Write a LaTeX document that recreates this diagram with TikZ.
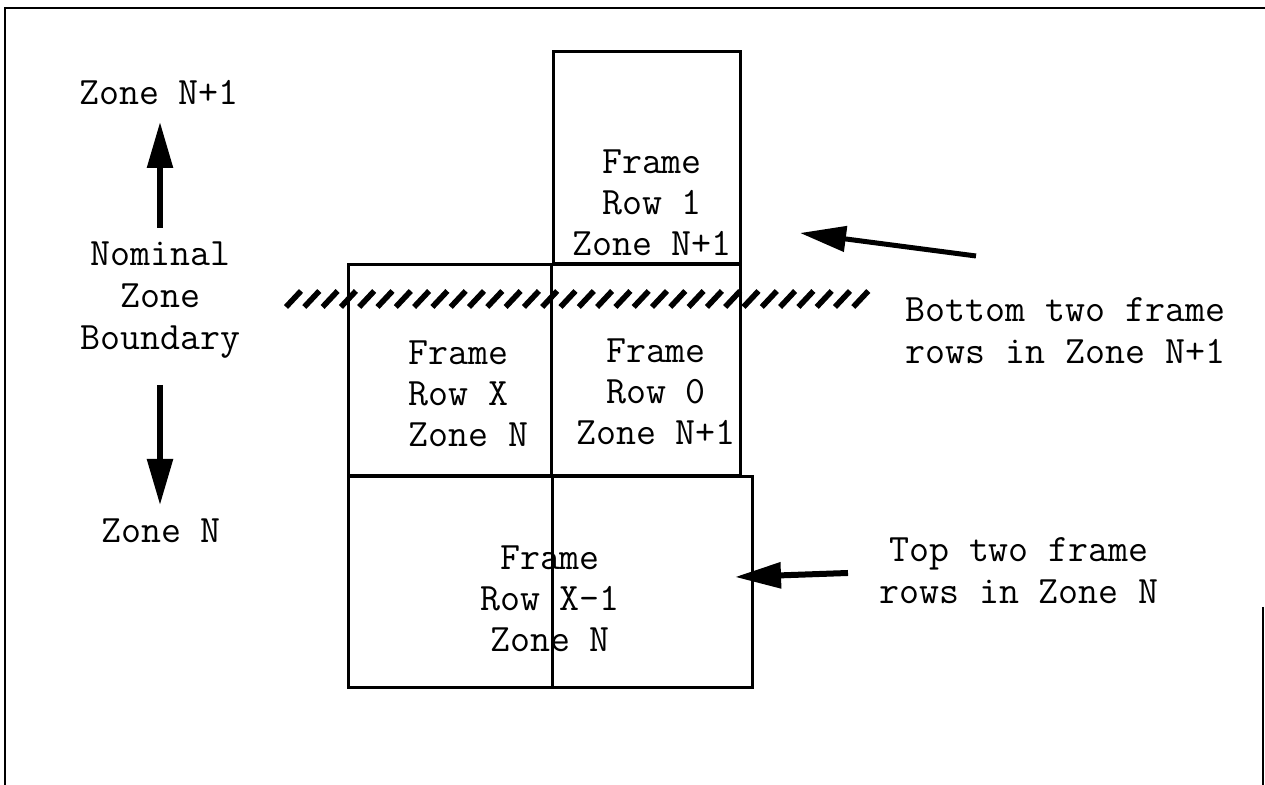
\documentclass[tikz,border=0pt]{standalone}
\usetikzlibrary{arrows.meta}
\begin{document}
\begin{tikzpicture}[x=0.5pt,y=0.5pt,
  box/.style={draw,line width=1.5pt,rectangle,inner sep=0pt},
  txt/.style={inner sep=0pt,align=center,font=\ttfamily\fontsize{19.4}{20.5}\selectfont},
  lbl/.style={inner sep=0pt,align=center,font=\ttfamily\fontsize{19.4}{21}\selectfont},
  bigarrow/.style={line width=2.8pt,-{Triangle[length=23pt,width=12.5pt]}}]
\useasboundingbox (0,0) rectangle (1265,785);
\draw[line width=1.2pt] (5,0) -- (5,777) -- (1265,777);
\draw[line width=1.2pt] (1263,178) -- (1263,0);
% frames
\node[box,minimum width=93.5pt,minimum height=106pt] (row1) at (646.5,627) {};
\node[box,minimum width=101.5pt,minimum height=105.5pt] (rowX) at (449.5,414.5) {};
\node[box,minimum width=94.5pt,minimum height=105.5pt] (row0) at (645.5,414.5) {};
\node[box,minimum width=202pt,minimum height=105.5pt] (rowXm1) at (550,202.5) {};
\draw[line width=1.5pt] (rowX.south east) -- (rowX.south east |- rowXm1.south);
\node[txt] (t1) at (652,582.5) {Frame\\Row 1\\Zone N+1};
\node[txt,align=left,anchor=west] (tX) at (408,391) {Frame\\Row X\\Zone N};
\node[txt] (t0) at (656,393.5) {Frame\\Row 0\\Zone N+1};
\node[txt] (tXm1) at (550,186) {Frame\\Row X-1\\Zone N};
% boundary hatching
\foreach \i in {0,...,31}
  \draw[line width=2.8pt] ({286+18.3*\i},478) -- ({301+18.3*\i},494);
% left side
\node[txt,anchor=base] (zoneup) at (159,680) {Zone N+1};
\node[lbl] (boundary) at (160.5,485) {Nominal\\Zone\\Boundary};
\node[txt,anchor=base] (zonedown) at (161,242) {Zone N};
\coordinate (upTail) at (160,557);
\coordinate (upTip) at (160,663);
\coordinate (downTail) at (160,400);
\coordinate (downTip) at (160,280);
\draw[bigarrow] (upTail) -- (upTip);
\draw[bigarrow] (downTail) -- (downTip);
% right side
\node[lbl,anchor=west] (bottomrows) at (905,454) {Bottom two frame\\rows in Zone N+1};
\node[lbl] (toprows) at (1019,214) {Top two frame\\rows in Zone N};
\coordinate (botTail) at (976,529);
\coordinate (botTip) at (800,552);
\coordinate (topTail) at (848,212);
\coordinate (topTip) at (735,208);
\draw[bigarrow,line width=2.5pt] (botTail) -- (botTip);
\draw[bigarrow,line width=3pt] (topTail) -- (topTip);
\end{tikzpicture}
\end{document}
